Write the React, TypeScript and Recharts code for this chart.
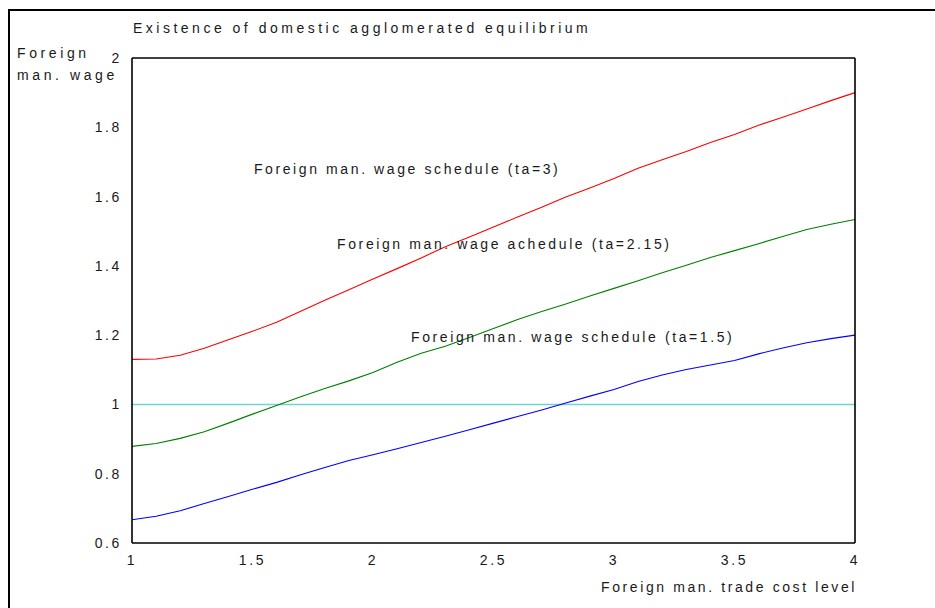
import { LineChart, Line, XAxis, YAxis, ReferenceLine, ReferenceDot } from "recharts";

// trade cost level (x) and the three wage schedules
const tradeCost = [
  1, 1.1, 1.2, 1.3, 1.4, 1.5, 1.6, 1.7, 1.8, 1.9, 2, 2.1, 2.2, 2.3, 2.4, 2.5,
  2.6, 2.7, 2.8, 2.9, 3, 3.1, 3.2, 3.3, 3.4, 3.5, 3.6, 3.7, 3.8, 3.9, 4,
];
const wageTa3 = [
  1.13, 1.131, 1.142, 1.162, 1.187, 1.211, 1.237, 1.269, 1.301, 1.331, 1.362,
  1.392, 1.423, 1.455, 1.483, 1.512, 1.541, 1.569, 1.599, 1.625, 1.652, 1.682,
  1.706, 1.73, 1.756, 1.779, 1.806, 1.829, 1.853, 1.877, 1.9,
];
const wageTa215 = [
  0.879, 0.887, 0.902, 0.921, 0.946, 0.972, 0.997, 1.022, 1.046, 1.068, 1.092,
  1.122, 1.148, 1.168, 1.193, 1.219, 1.245, 1.268, 1.29, 1.313, 1.335, 1.357,
  1.38, 1.402, 1.424, 1.444, 1.464, 1.485, 1.505, 1.52, 1.534,
];
const wageTa15 = [
  0.667, 0.677, 0.693, 0.714, 0.734, 0.755, 0.775, 0.797, 0.818, 0.838, 0.855,
  0.872, 0.89, 0.908, 0.927, 0.946, 0.965, 0.984, 1.004, 1.024, 1.043, 1.066,
  1.085, 1.101, 1.114, 1.127, 1.146, 1.163, 1.178, 1.19, 1.2,
];

const xTicks = [1, 1.5, 2, 2.5, 3, 3.5, 4];
const yTicks = [0.6, 0.8, 1, 1.2, 1.4, 1.6, 1.8, 2];

// curve annotations, anchored in data units (left end of the text)
const notes = [
  { x: 1.506, y: 1.679, text: "Foreign man. wage schedule (ta=3)" },
  { x: 1.851, y: 1.462, text: "Foreign man. wage achedule (ta=2.15)" },
  { x: 2.158, y: 1.196, text: "Foreign man. wage schedule (ta=1.5)" },
];

const data = tradeCost.map((x, i) => ({
  x,
  ta3: wageTa3[i],
  ta215: wageTa215[i],
  ta15: wageTa15[i],
}));

const FONT = "'Liberation Sans', Arial, sans-serif";
const txt = { fontFamily: FONT, fontSize: 14, letterSpacing: 2.6, fill: "#1a1a1a" };

const XTick = ({ x, y, payload }: any) => (
  <text x={x} y={y + 14} textAnchor="middle" style={txt}>
    {payload.value}
  </text>
);

const YTick = ({ x, y, payload }: any) => (
  <text x={x - 2} y={y} textAnchor="end" dominantBaseline="central" style={txt}>
    {payload.value}
  </text>
);

const noteLabel = (text: string) => (props: any) => {
  const vb = props.viewBox || {};
  return (
    <text x={vb.x} y={vb.y} dominantBaseline="central" style={txt}>
      {text}
    </text>
  );
};

export default function App() {
  return (
    <div style={{ position: "absolute", left: 0, top: 0, width: 935, height: 608, background: "#fff" }}>
      {/* figure frame */}
      <div
        style={{
          position: "absolute",
          left: 8,
          top: 9,
          width: 927,
          height: 599,
          borderLeft: "2px solid #000",
          borderTop: "2px solid #000",
          boxSizing: "border-box",
        }}
      />
      <div style={{ position: "absolute", left: 133, top: 20, ...txt, letterSpacing: 3.5, color: "#1a1a1a", whiteSpace: "nowrap" }}>
        Existence of domestic agglomerated equilibrium
      </div>
      <div style={{ position: "absolute", left: 17, top: 42, ...txt, letterSpacing: 3.6, color: "#1a1a1a", lineHeight: "22px", whiteSpace: "nowrap" }}>
        Foreign
        <br />
        man. wage
      </div>
      <div style={{ position: "absolute", right: 78, top: 579, ...txt, color: "#1a1a1a", whiteSpace: "nowrap" }}>
        Foreign man. trade cost level
      </div>
      <div style={{ position: "absolute", left: 0, top: 0 }}>
        <LineChart width={935} height={608} data={data} margin={{ top: 58, right: 80, left: 72, bottom: 35 }}>
          <XAxis
            xAxisId="main"
            dataKey="x"
            type="number"
            domain={[1, 4]}
            ticks={xTicks}
            height={30}
            axisLine={{ stroke: "#000", strokeWidth: 1.6 }}
            tickLine={false}
            tick={<XTick />}
            interval={0}
          />
          <XAxis xAxisId="bottomIn" dataKey="x" type="number" domain={[1, 4]} ticks={xTicks} mirror
            axisLine={false} tick={false} tickLine={{ stroke: "#000" }} tickSize={5} />
          <XAxis xAxisId="top" orientation="top" dataKey="x" type="number" domain={[1, 4]} ticks={xTicks} mirror
            axisLine={{ stroke: "#000", strokeWidth: 1.6 }} tick={false} tickLine={{ stroke: "#000" }} tickSize={5} />
          <YAxis
            yAxisId="main"
            type="number"
            domain={[0.6, 2]}
            ticks={yTicks}
            width={60}
            axisLine={{ stroke: "#000", strokeWidth: 1.6 }}
            tickLine={false}
            tick={<YTick />}
            interval={0}
          />
          <YAxis yAxisId="leftIn" type="number" domain={[0.6, 2]} ticks={yTicks} mirror
            axisLine={false} tick={false} tickLine={{ stroke: "#000" }} tickSize={5} />
          <YAxis yAxisId="right" orientation="right" type="number" domain={[0.6, 2]} ticks={yTicks} mirror
            axisLine={{ stroke: "#000", strokeWidth: 1.6 }} tick={false} tickLine={{ stroke: "#000" }} tickSize={5} />

          <ReferenceLine xAxisId="main" yAxisId="main" y={1} stroke="#6fd3d3" strokeWidth={1.5} />

          <Line xAxisId="main" yAxisId="main" type="linear" dataKey="ta3" stroke="#ff0000" strokeWidth={1.1}
            dot={false} activeDot={false} isAnimationActive={false} />
          <Line xAxisId="main" yAxisId="main" type="linear" dataKey="ta215" stroke="#008000" strokeWidth={1.1}
            dot={false} activeDot={false} isAnimationActive={false} />
          <Line xAxisId="main" yAxisId="main" type="linear" dataKey="ta15" stroke="#0000ff" strokeWidth={1.1}
            dot={false} activeDot={false} isAnimationActive={false} />

          {notes.map((n) => (
            <ReferenceDot key={n.text} xAxisId="main" yAxisId="main" x={n.x} y={n.y} r={0}
              fill="none" stroke="none" label={{ content: noteLabel(n.text) }} />
          ))}
        </LineChart>
      </div>
    </div>
  );
}
